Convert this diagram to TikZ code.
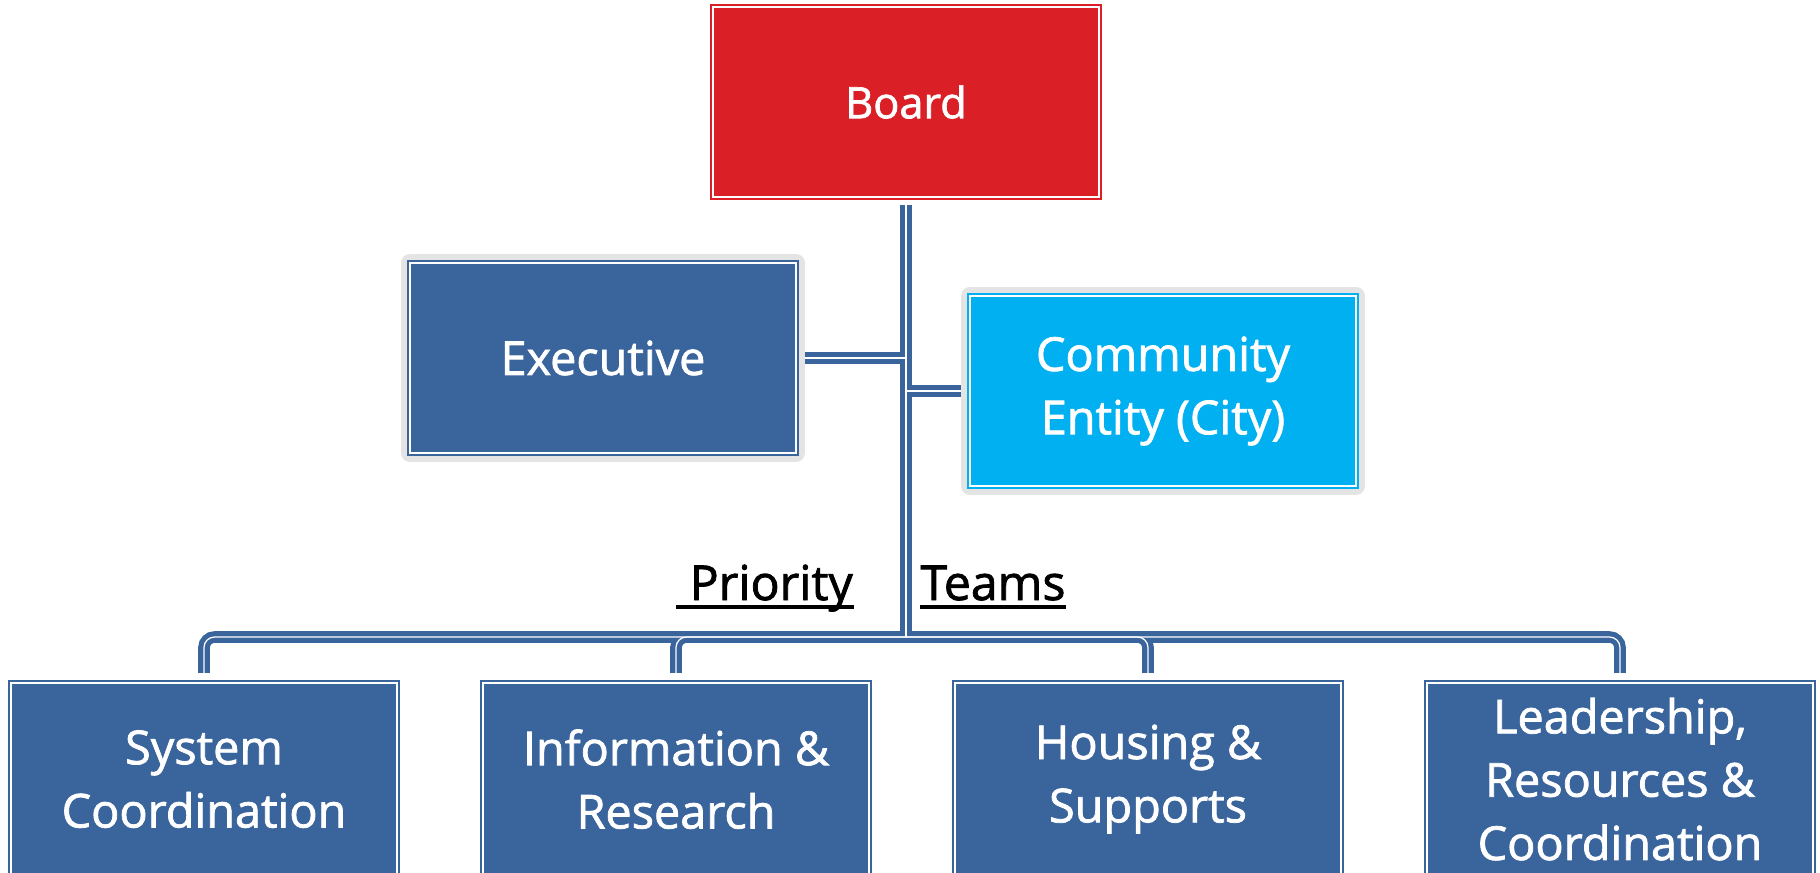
\documentclass[tikz,border=0pt]{standalone}
\usepackage{fontspec}
\setmainfont{Open Sans}[FakeBold=1.6]
\usetikzlibrary{backgrounds}
\definecolor{boardRed}{RGB}{218,31,39}
\definecolor{teamBlue}{RGB}{58,100,156}
\definecolor{cityCyan}{RGB}{0,176,240}
\definecolor{haloGrey}{RGB}{228,228,228}

\begin{document}
\begin{tikzpicture}[x=0.01cm,y=-0.01cm,%%
  boxStyle/.style={draw=#1,fill=#1,double=white,double distance=0.4pt,%%
    line width=0.6pt,text=white,align=center,inner sep=0pt,%%
    minimum width=3.86cm,minimum height=1.9cm,%%
    font=\fontsize{13.3}{18}\selectfont},%%
  haloStyle/.style={preaction={draw=haloGrey,line width=5pt,line join=round}},%%
  connStyle/.style={-,draw=teamBlue,line width=3.3pt,rounded corners=3pt},%%
  gapStyle/.style={-,draw=white,line width=0.35pt,rounded corners=3pt},%%
  labelStyle/.style={anchor=base,inner sep=0pt,font=\fontsize{13.7}{16}\selectfont},%%
  underStyle/.style={-,line width=1pt}%%
]
%%
\useasboundingbox (0,0) rectangle (1820,872);
%%
\pgfmathsetmacro{\xmid}{906} %% the trunk below the board
\pgfmathsetmacro{\ybus}{637} %% the bus over the teams
\pgfmathsetmacro{\yteam}{682}
%%
%% The board and the two boxes beside the trunk.
\node[boxStyle=boardRed,font=\fontsize{12.3}{15}\selectfont] (board) at (\xmid,102) {Board};
\node[boxStyle=teamBlue,haloStyle] (exec) at (603,358) {Executive};
\node[boxStyle=cityCyan,haloStyle] (city) at (1163,391) {Community\\Entity (City)};
%%
\coordinate (trunkTop) at (\xmid,205);
\coordinate (hub) at (\xmid,\ybus);
%%
%% The priority teams.
\foreach \tname/\tx/\ttext in {sys/204/{System\\Coordination},%%
    info/676/{Information \&\\Research},house/1148/{Housing \&\\Supports},%%
    lead/1620/{Leadership,\\Resources \&\\Coordination}}
  \node[boxStyle=teamBlue,anchor=north,minimum height=1.92cm] (\tname) at (\tx,\yteam) {\ttext};
%%
\node[labelStyle] (pri) at (765,600) {\ Priority};
\node[labelStyle] (teams) at (993,600) {Teams};
\draw[underStyle] ([yshift=-2pt]pri.base west) -- ([yshift=-2pt]pri.base east);
\draw[underStyle] ([yshift=-2pt]teams.base west) -- ([yshift=-2pt]teams.base east);
%%
%% Connectors go behind the boxes.  Draw the blue first.
\begin{scope}[on background layer]
  \draw[connStyle] (trunkTop) -- (hub);
  \draw[connStyle] (exec.east -| hub) -- (exec.east);
  \draw[connStyle] (city.west -| hub) -- (city.west);
  \foreach \tname in {sys,info,house,lead}
    \draw[connStyle] (hub) -| ([yshift=2.6pt]\tname.north);
\end{scope}
%%
%% The thin white line along each connector.
\begin{scope}[on background layer,transform canvas={shift={(-0.9pt,0.9pt)}}]
  \draw[gapStyle] (trunkTop) -- (hub);
  \draw[gapStyle] (exec.east -| hub) -- (exec.east);
  \foreach \tname in {sys,info}
    \draw[gapStyle] (hub) -| ([yshift=2.6pt]\tname.north);
\end{scope}
\begin{scope}[on background layer,transform canvas={shift={(-0.9pt,-0.9pt)}}]
  \draw[gapStyle] (city.west -| hub) -- (city.west);
  \foreach \tname in {house,lead}
    \draw[gapStyle] (hub) -| ([yshift=2.6pt]\tname.north);
\end{scope}
\end{tikzpicture}
\end{document}
